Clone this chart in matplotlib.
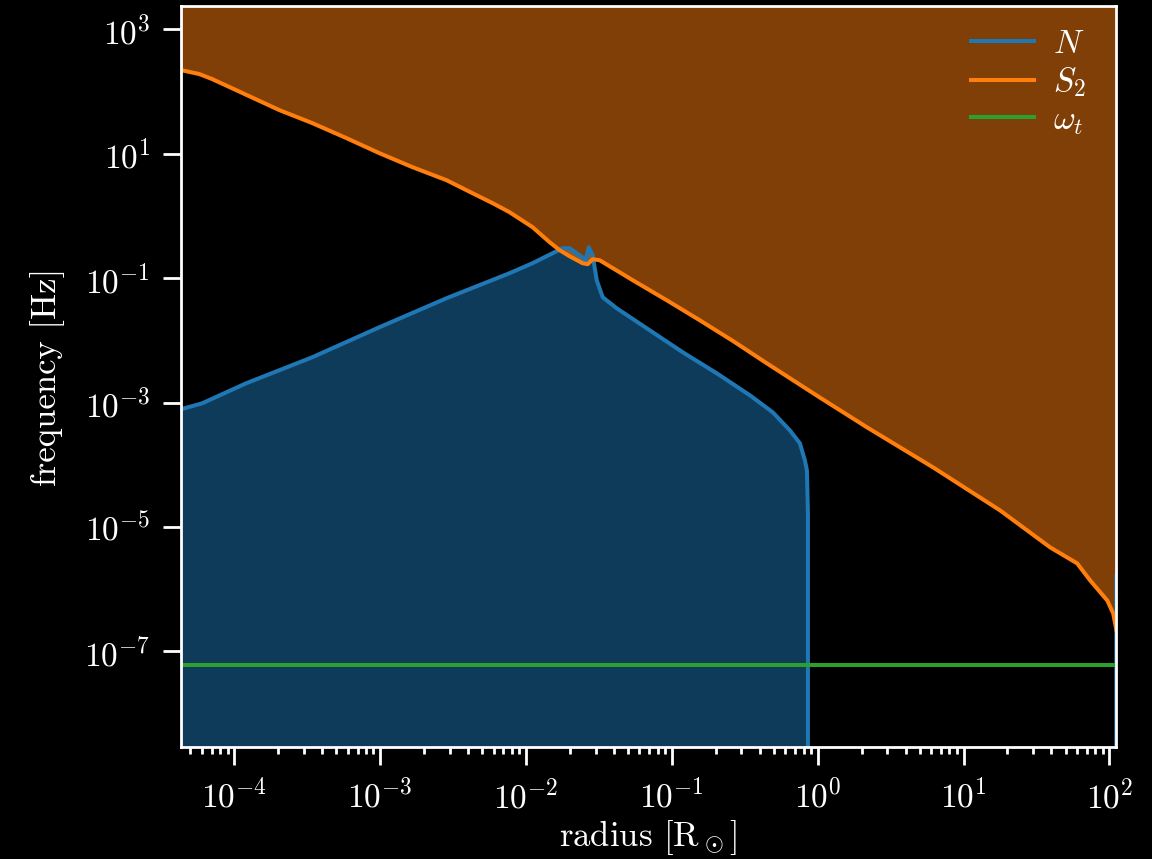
import numpy as np
import matplotlib
matplotlib.use('Agg')
import matplotlib.pyplot as plt
from matplotlib.ticker import FixedLocator, NullLocator

plt.rcParams['font.family'] = 'serif'
plt.rcParams['font.serif'] = ['cmr10']
plt.rcParams['mathtext.fontset'] = 'cm'
plt.rcParams['axes.formatter.use_mathtext'] = True
plt.rcParams['font.size'] = 22

# log10 of radius [R_sun] and frequency [Hz]
log_r_S2 = [-4.366, -4.240, -4.151, -3.691, -3.465, -3.231, -3.005, -2.778, -2.545,
            -2.367, -2.229, -2.113, -1.955, -1.838, -1.769, -1.701, -1.612, -1.577,
            -1.543, -1.495, -1.268, -1.035, -0.809, -0.582, -0.349, 0.012,
            0.338, 0.791, 1.250, 1.594, 1.710, 1.779, 1.868, 1.985, 2.026, 2.047]
log_S2 = [2.341, 2.277, 2.196, 1.698, 1.489, 1.248, 1.006, 0.781, 0.572,
          0.363, 0.203, 0.058, -0.183, -0.424, -0.553, -0.650, -0.762, -0.778,
          -0.698, -0.714, -1.035, -1.357, -1.678, -2.010, -2.370, -2.916,
          -3.399, -4.042, -4.733, -5.328, -5.489, -5.585, -5.859, -6.180, -6.389, -6.65]

log_r_N = [-4.366, -4.220, -3.918, -3.465, -3.005, -2.545, -2.113, -1.955, -1.817,
           -1.749, -1.701, -1.632, -1.591, -1.570, -1.543, -1.515, -1.474, -1.378,
           -1.152, -0.925, -0.692, -0.465, -0.308, -0.191, -0.122, -0.088, -0.074,
           -0.067, -0.062, 2.040, 2.047]
N_vals = [10**v for v in [-3.109, -3.013, -2.691, -2.273, -1.791, -1.325, -0.923, -0.762, -0.601,
                          -0.521, -0.521, -0.633, -0.714, -0.505, -0.633, -1.035, -1.309, -1.486,
                          -1.839, -2.193, -2.531, -2.884, -3.158, -3.447, -3.656, -3.929, -4.090,
                          -4.781]] + [0.0, 0.0, 10**-5.78]

omega_t = 5.96e-8

xticks = [1e-4, 1e-3, 1e-2, 1e-1, 1e0, 1e1, 1e2]
yticks = [1e-7, 1e-5, 1e-3, 1e-1, 1e1, 1e3]

r_S2 = 10**np.array(log_r_S2)
S2 = 10**np.array(log_S2)
r_N = 10**np.array(log_r_N)
N = np.array(N_vals)

blue = '#1f77b4'
orange = '#ff7f0e'
green = '#2ca02c'

fig = plt.figure(figsize=(11.52, 8.59), dpi=100, facecolor='black')
ax = fig.add_axes([0.157, 0.130, 0.812, 0.863])
ax.set_facecolor('black')

ax.fill_between(r_N, 1e-30, np.maximum(N, 1e-30), color=blue, alpha=0.5, lw=0)
ax.fill_between(r_S2, S2, 1e6, color=orange, alpha=0.5, lw=0)
ax.plot(r_N, N, color=blue, lw=2.9, label='$N$')
ax.plot(r_S2, S2, color=orange, lw=2.9, label='$S_2$')
ax.axhline(omega_t, color=green, lw=2.9, label=r'$\omega_t$')

ax.set_xscale('log')
ax.set_yscale('log')
ax.set_xlim(10**-4.366, 10**2.047)
ax.set_ylim(10**-8.54, 10**3.37)

ax.xaxis.set_major_locator(FixedLocator(xticks))
ax.yaxis.set_major_locator(FixedLocator(yticks))
ax.yaxis.set_minor_locator(NullLocator())

for s in ax.spines.values():
    s.set_color('white')
    s.set_linewidth(2)
ax.tick_params(which='both', colors='white', width=2, direction='out')
ax.tick_params(which='major', length=13, labelsize=24, pad=9)
ax.tick_params(which='minor', length=5)

ax.set_xlabel(r'radius [R$_\odot$]', color='white', fontsize=25, labelpad=3)
ax.set_ylabel('frequency [Hz]', color='white', fontsize=25, labelpad=14)

leg = ax.legend(loc='upper right', bbox_to_anchor=(0.992, 1.0), frameon=False,
                fontsize=24, handlelength=1.9, handletextpad=0.55,
                labelspacing=0.2, borderaxespad=0.3)
for t in leg.get_texts():
    t.set_color('white')

fig.savefig('out.png', dpi=100, facecolor='black')
